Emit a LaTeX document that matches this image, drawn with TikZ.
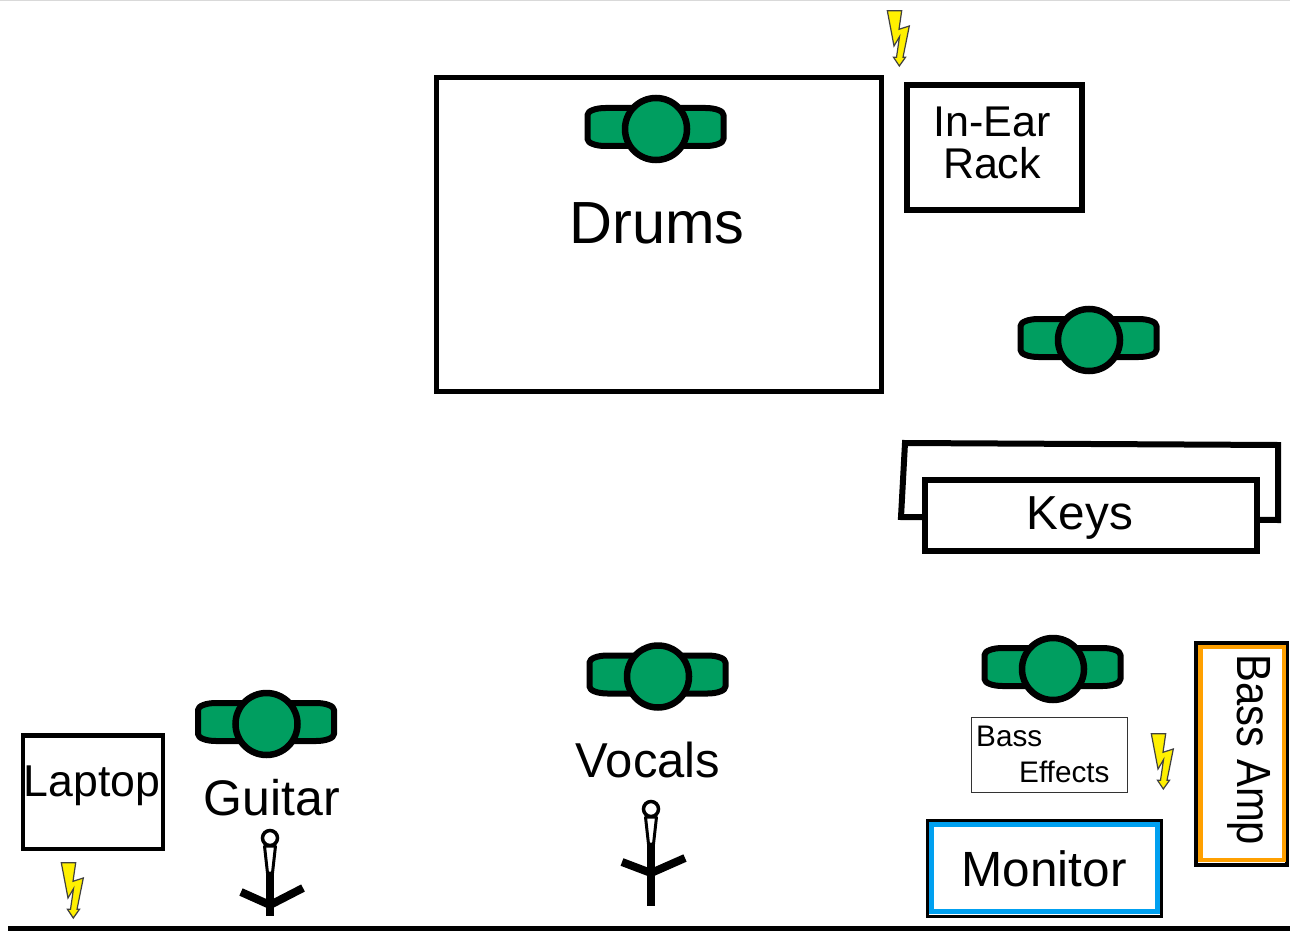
\documentclass[tikz,border=0pt]{standalone}
\usepackage{graphicx}
\usepackage{fontspec}
\setmainfont{Liberation Sans}
\definecolor{pgreen}{RGB}{0,158,96}
\definecolor{bolt}{RGB}{255,240,0}
\definecolor{mblue}{RGB}{0,160,240}
\definecolor{amporange}{RGB}{255,160,0}
\newcommand{\fsz}[1]{\fontsize{#1}{#1}\selectfont}
\tikzset{
 x=1pt,y=-1pt,
 box/.style={draw=black,line width=5pt,fill=white,outer sep=0pt,inner sep=0pt,anchor=north west},
 lbl/.style={inner sep=0pt,anchor=base,text=black},
 pics/person/.style={code={
   \draw[line width=6pt,fill=pgreen,line join=round]
     (-68,-14) .. controls (-68,-18) and (-60,-21) .. (-50,-21) -- (50,-21)
     .. controls (60,-21) and (68,-18) .. (68,-14) -- (68,10)
     .. controls (68,14) and (60,17) .. (50,17) -- (-50,17)
     .. controls (-60,17) and (-68,14) .. (-68,10) -- cycle;
   \draw[line width=6.5pt,fill=pgreen] (0.5,0) circle (31);
 }},
 pics/lightning/.style={code={
   \draw[line width=1.2pt,draw=black!75,fill=bolt,line join=miter]
     (-10.7,-27.3) -- (3.7,-27.3) -- (1,-8.7) -- (11.3,-12) -- (5,19.3) -- (7.5,19.3)
     -- (1.3,28) -- (-4.5,19.3) -- (-1.5,19.3) -- (1.5,-1.3) -- (-4,8) -- cycle;
 }},
 pics/mic/.style={code={
   \draw[line width=3.5pt,fill=white] (0,0) circle (7.5);
   \draw[line width=3pt,fill=white,line join=bevel] (-5.5,8) -- (5.5,8) -- (2.5,35) -- (-2.5,35) -- cycle;
 }},
 stand/.style={line width=8pt,line cap=butt,line join=miter},
}
\begin{document}
\begin{tikzpicture}
\useasboundingbox (0,0) rectangle (1290,931);
\fill[white] (0,0) rectangle (1290,931);
\draw[black!15,line width=1pt] (0,0.5) -- (1290,0.5);
\fill[black] (8,926) rectangle (1290,931);
% Drums
\node[box,minimum width=445pt,minimum height=314pt] (drumkit) at (436.5,77.5) {};
\pic at (655.5,129) {person};
\node[lbl,font=\fsz{59.5}] (drumslbl) at (657,243.5) {Drums};
% In-ear rack
\node[box,line width=6pt,minimum width=175pt,minimum height=125pt] (rack) at (907,85) {};
\node[lbl,font=\fsz{43}] (rackone) at (992,137) {In-Ear};
\node[lbl,font=\fsz{43}] (racktwo) at (992,178) {Rack};
\pic at (898,38) {lightning};
% Keys
\pic at (1088.5,340) {person};
\draw[line width=6pt,fill=white] (905,443) -- (1278,445) -- (1278,520) -- (901,517) -- cycle;
\node[box,line width=6pt,minimum width=332pt,minimum height=70.5pt] (keysbox) at (925,480) {};
\node[lbl,font=\fsz{47.7}] (keyslbl) at (1080,529) {Keys};
% Vocals
\pic at (657.5,676.5) {person};
\node[lbl,font=\fsz{49}] (vocalslbl) at (648,777.5) {Vocals};
\pic at (651,809) {mic};
\draw[stand] (651,843) -- (651,906);
\draw[stand] (622,862) -- (651,873) -- (685,858);
% Guitar
\pic at (266,724) {person};
\node[lbl,font=\fsz{50}] (guitarlbl) at (272,815) {Guitar};
\pic at (270,838) {mic};
\draw[stand] (270,872) -- (270,916);
\draw[stand] (241,892) -- (270,905) -- (303,888);
% Laptop
\node[box,line width=4.5pt,minimum width=140pt,minimum height=113.5pt] (laptop) at (23,735.5) {};
\node[lbl,font=\fsz{44.6}] (laptoplbl) at (92,796) {Laptop};
\pic at (72,890) {lightning};
% Bass
\pic at (1052.5,669) {person};
\node[box,draw=black!80,line width=1pt,minimum width=156pt,minimum height=75.4pt] (fx) at (971,717.3) {};
\node[lbl,anchor=base west,font=\fsz{29.7}] (fxa) at (976,746) {Bass};
\node[lbl,anchor=base west,font=\fsz{29.7}] (fxb) at (1019,782) {Effects};
\pic at (1162,761) {lightning};
% Monitor
\node[box,draw=black,line width=3.5pt,minimum width=233.8pt,minimum height=95.6pt] (monout) at (927.5,820.7) {};
\node[box,draw=mblue,line width=4.8pt,minimum width=226pt,minimum height=87pt] (mon) at (931.5,824.5) {};
\node[lbl,font=\fsz{49.5}] (monlbl) at (1044,886) {Monitor};
% Bass amp
\node[box,draw=black,line width=4pt,minimum width=91pt,minimum height=222.6pt] (ampout) at (1196.3,642.7) {};
\node[box,draw=amporange,line width=4.5pt,minimum width=83.4pt,minimum height=213pt] (amp) at (1200.5,647) {};
\node[lbl,rotate=-90] (amplbl) at (1237,750) {\fsz{48}\scalebox{.87}[1]{Bass Amp}};
\end{tikzpicture}
\end{document}
